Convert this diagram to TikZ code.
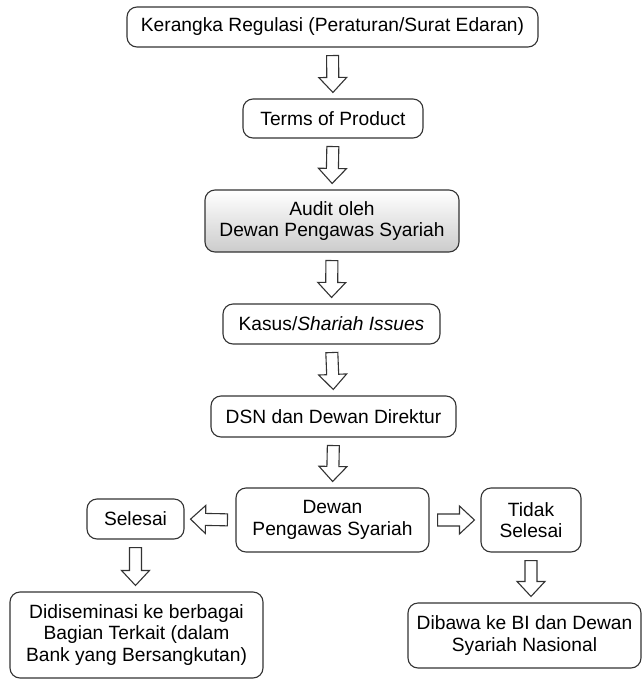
\documentclass[tikz,border=0pt]{standalone}
\usepackage{fontspec}
\setmainfont{Liberation Sans}
\usetikzlibrary{calc}

\tikzset{
  box/.style={draw=black!80, line width=1.1pt, rounded corners=10pt, fill=white,
    align=center, inner sep=2pt, font=\fontsize{19.2}{21.6}\selectfont},
  shadedbox/.style={box, fill=none, top color=white, bottom color=black!20},
  % hollow block arrow between two points, pulled back from both ends
  hollow/.style={draw=black!80, line width=1.1pt, line join=miter, to path={
    ($(\tikztostart)!8pt!(\tikztotarget)!6pt!90:(\tikztotarget)$) --
    ($(\tikztotarget)!21pt!(\tikztostart)!6pt!-90:(\tikztostart)$) --
    ($(\tikztotarget)!21pt!(\tikztostart)!14pt!-90:(\tikztostart)$) --
    ($(\tikztotarget)!6pt!(\tikztostart)$) --
    ($(\tikztotarget)!21pt!(\tikztostart)!14pt!90:(\tikztostart)$) --
    ($(\tikztotarget)!21pt!(\tikztostart)!6pt!90:(\tikztostart)$) --
    ($(\tikztostart)!8pt!(\tikztotarget)!6pt!-90:(\tikztotarget)$) -- cycle
  }}
}

\begin{document}
\begin{tikzpicture}[x=1pt, y=-1pt]
\useasboundingbox (0,0) rectangle (644,681);

% main column
\node[box, minimum width=411pt, minimum height=40pt] (reg) at (332.5,27)
  {Kerangka Regulasi (Peraturan/Surat Edaran)};
\node[box, minimum width=180pt, minimum height=39pt] (terms) at (333,118.5)
  {Terms of Product};
\node[shadedbox, minimum width=254pt, minimum height=62pt] (audit) at (332,221)
  {Audit oleh\\Dewan Pengawas Syariah};
\node[box, minimum width=217pt, minimum height=40pt] (kasus) at (331.5,324)
  {Kasus/\textit{Shariah Issues}};
\node[box, minimum width=245pt, minimum height=41pt] (dsn) at (333.5,416.5)
  {DSN dan Dewan Direktur};
\node[box, minimum width=193pt, minimum height=64pt] (dps) at (332.5,520)
  {Dewan\\Pengawas Syariah};

% branches
\node[box, minimum width=97pt, minimum height=40pt] (sel) at (135.5,519)
  {Selesai};
\node[box, minimum width=100pt, minimum height=64pt] (tidak) at (531,520)
  {Tidak\\Selesai};
\node[box, minimum width=253pt, minimum height=86pt] (dis) at (136.5,635)
  {Didiseminasi ke berbagai\\Bagian Terkait (dalam\\Bank yang Bersangkutan)};
\node[box, minimum width=233pt, minimum height=65pt] (dib) at (524.5,635.5)
  {Dibawa ke BI dan Dewan\\Syariah Nasional};

% block arrows
\draw[hollow] (reg.south) to (terms.north);
\draw[hollow] (terms.south) to (audit.north);
\draw[hollow] (audit.south) to (kasus.north);
\draw[hollow] (kasus.south) to (dsn.north);
\draw[hollow] (dsn.south) to (dps.north);
\draw[hollow] (dps.west) to (sel.east);
\draw[hollow] (dps.east) to (tidak.west);
\draw[hollow] (sel.south) to (sel.south |- dis.north);
\draw[hollow] (tidak.south) to (tidak.south |- dib.north);
\end{tikzpicture}
\end{document}
